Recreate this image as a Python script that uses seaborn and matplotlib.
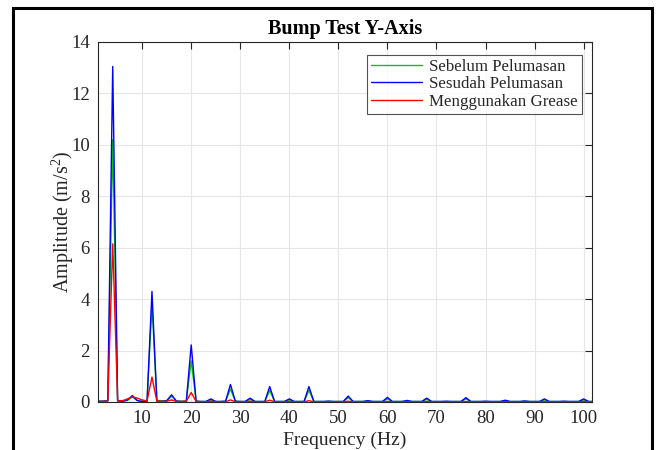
import numpy as np
import pandas as pd
import matplotlib
matplotlib.use("Agg")
import matplotlib.pyplot as plt
from matplotlib.patches import Rectangle
import seaborn as sns

# ---- data ----
freq = list(range(1, 103))

sebelum = [
    0.03, 0.03, 0.05, 10.20, 0.05, 0.03, 0.06, 0.20, 0.05, 0.03,
    0.05, 3.80, 0.06, 0.05, 0.05, 0.22, 0.04, 0.03, 0.03, 1.60,
    0.03, 0.02, 0.02, 0.08, 0.02, 0.02, 0.03, 0.50, 0.03, 0.02,
    0.02, 0.10, 0.02, 0.02, 0.02, 0.45, 0.02, 0.02, 0.02, 0.08,
    0.02, 0.02, 0.02, 0.45, 0.02, 0.02, 0.02, 0.03, 0.02, 0.02,
    0.02, 0.17, 0.02, 0.02, 0.02, 0.04, 0.02, 0.02, 0.02, 0.12,
    0.02, 0.02, 0.02, 0.04, 0.02, 0.02, 0.02, 0.10, 0.02, 0.02,
    0.02, 0.02, 0.02, 0.02, 0.02, 0.12, 0.02, 0.02, 0.02, 0.02,
    0.02, 0.02, 0.02, 0.04, 0.02, 0.02, 0.02, 0.03, 0.02, 0.02,
    0.02, 0.08, 0.02, 0.02, 0.02, 0.02, 0.02, 0.02, 0.02, 0.08,
    0.02, 0.02,
]

sesudah = [
    0.03, 0.03, 0.05, 13.05, 0.05, 0.03, 0.08, 0.25, 0.06, 0.02,
    0.03, 4.30, 0.03, 0.02, 0.05, 0.28, 0.03, 0.02, 0.03, 2.22,
    0.03, 0.02, 0.02, 0.12, 0.02, 0.02, 0.03, 0.68, 0.03, 0.02,
    0.02, 0.15, 0.02, 0.02, 0.02, 0.60, 0.02, 0.02, 0.02, 0.12,
    0.02, 0.02, 0.02, 0.60, 0.02, 0.02, 0.02, 0.03, 0.02, 0.02,
    0.02, 0.23, 0.02, 0.02, 0.02, 0.05, 0.02, 0.02, 0.02, 0.18,
    0.02, 0.02, 0.02, 0.06, 0.02, 0.02, 0.02, 0.15, 0.02, 0.02,
    0.02, 0.03, 0.02, 0.02, 0.02, 0.17, 0.02, 0.02, 0.02, 0.03,
    0.02, 0.02, 0.02, 0.07, 0.02, 0.02, 0.02, 0.04, 0.02, 0.02,
    0.02, 0.12, 0.02, 0.02, 0.02, 0.03, 0.02, 0.02, 0.02, 0.12,
    0.02, 0.02,
]

grease = [
    0.02, 0.02, 0.04, 6.15, 0.04, 0.05, 0.12, 0.20, 0.15, 0.08,
    0.04, 0.97, 0.03, 0.02, 0.03, 0.08, 0.02, 0.02, 0.03, 0.37,
    0.02, 0.01, 0.01, 0.03, 0.01, 0.01, 0.01, 0.08, 0.01, 0.01,
    0.01, 0.03, 0.01, 0.01, 0.01, 0.07, 0.01, 0.01, 0.01, 0.02,
    0.01, 0.01, 0.01, 0.05, 0.01, 0.01, 0.01, 0.01, 0.01, 0.01,
    0.01, 0.03, 0.01, 0.01, 0.01, 0.01, 0.01, 0.01, 0.01, 0.02,
    0.01, 0.01, 0.01, 0.01, 0.01, 0.01, 0.01, 0.02, 0.01, 0.01,
    0.01, 0.01, 0.01, 0.01, 0.01, 0.02, 0.01, 0.01, 0.01, 0.01,
    0.01, 0.01, 0.01, 0.01, 0.01, 0.01, 0.01, 0.01, 0.01, 0.01,
    0.01, 0.01, 0.01, 0.01, 0.01, 0.01, 0.01, 0.01, 0.01, 0.02,
    0.01, 0.01,
]

series_names = ["Sebelum Pelumasan", "Sesudah Pelumasan", "Menggunakan Grease"]
series_colors = ["#00c800", "#0000ff", "#ff0000"]

x_ticks = [10, 20, 30, 40, 50, 60, 70, 80, 90, 100]
y_ticks = [0, 2, 4, 6, 8, 10, 12, 14]

df = pd.DataFrame({
    "Frequency": freq * 3,
    "Amplitude": sebelum + sesudah + grease,
    "Series": [series_names[0]] * len(freq) + [series_names[1]] * len(freq)
              + [series_names[2]] * len(freq),
})

# ---- style ----
sns.set_style("white")
plt.rcParams["font.family"] = ["Liberation Serif", "DejaVu Serif"]
plt.rcParams["mathtext.fontset"] = "custom"
plt.rcParams["mathtext.rm"] = "Liberation Serif"
plt.rcParams["mathtext.it"] = "Liberation Serif:italic"

W, H = 657, 450
fig = plt.figure(figsize=(W / 100, H / 100), dpi=100)
fig.patch.set_facecolor("white")
ax = fig.add_axes([98 / W, 1 - 402 / H, (592 - 98) / W, (402 - 42) / H])

sns.lineplot(data=df, x="Frequency", y="Amplitude", hue="Series",
             hue_order=series_names, palette=dict(zip(series_names, series_colors)),
             linewidth=1.0, ax=ax, legend=True, estimator=None, sort=False)

ax.set_xlim(1, 101.7)
ax.set_ylim(0, 14)
ax.set_xticks(x_ticks)
ax.set_yticks(y_ticks)
ax.grid(True, color="#e6e6e6", linewidth=0.8)
ax.set_axisbelow(True)

dark = "#262626"
for s in ax.spines.values():
    s.set_color(dark)
    s.set_linewidth(0.8)
    s.set_visible(True)
ax.tick_params(direction="in", length=5, width=0.8, colors=dark,
               top=True, right=True, labelsize=13.5, pad=6)
for lbl in ax.get_xticklabels() + ax.get_yticklabels():
    lbl.set_color(dark)

ax.set_xlabel("Frequency (Hz)", fontsize=14, color=dark, labelpad=3)
ax.set_ylabel(r"Amplitude (m/s$^2$)", fontsize=14.5, color=dark, labelpad=-4)
ax.set_title("Bump Test Y-Axis", fontsize=14.5, fontweight="bold", color="black", pad=6)

leg = ax.legend(loc="upper right", bbox_to_anchor=(0.98, 0.965), fontsize=12.2,
                frameon=True, fancybox=False, shadow=False, handlelength=3.0,
                handletextpad=0.45, borderpad=0.25, labelspacing=0.08,
                borderaxespad=0.0)
leg.get_frame().set_edgecolor(dark)
leg.get_frame().set_linewidth(0.8)
for t in leg.get_texts():
    t.set_color(dark)
for ln in leg.get_lines():
    ln.set_linewidth(1.0)

# outer image frame
fig.add_artist(Rectangle((13 / W, -0.05), (652 - 13) / W, 1.05 - 8 / H,
                         transform=fig.transFigure, fill=False,
                         edgecolor="black", linewidth=2.2))

fig.savefig("out.png", dpi=100)
